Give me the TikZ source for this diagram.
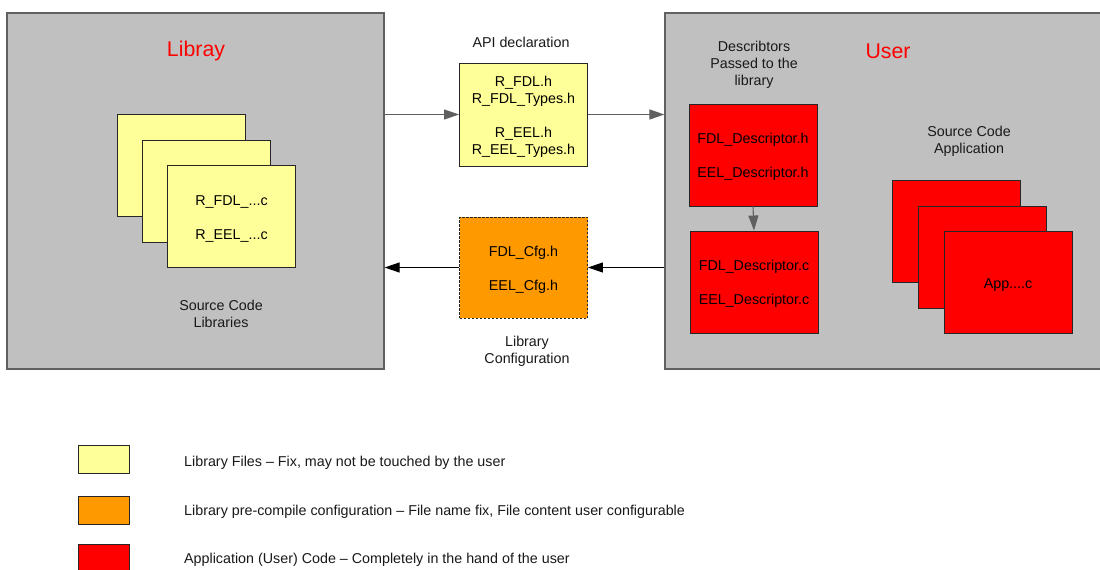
\documentclass[tikz,border=0pt]{standalone}
\usepackage{fontspec}
\setmainfont{Liberation Sans}
\usetikzlibrary{arrows.meta}
\definecolor{boxgray}{HTML}{C0C0C0}
\definecolor{edgegray}{HTML}{606060}
\definecolor{libyellow}{HTML}{FFFF99}
\definecolor{cfgorange}{HTML}{FF9900}
\definecolor{userred}{HTML}{FF0000}
\newcommand\toppad{\rule{0pt}{14pt}}
\tikzset{
  area/.style={draw=edgegray, line width=1.2pt, fill=boxgray, inner sep=0pt},
  filebox/.style={draw=black!85, line width=0.9pt, inner sep=0pt, minimum width=128pt, minimum height=102pt, align=center},
  yfile/.style={filebox, fill=libyellow},
  ofile/.style={filebox, fill=cfgorange, dashed, dash pattern=on 2.5pt off 1.5pt},
  rfile/.style={filebox, fill=userred},
  legbox/.style={draw=black!85, line width=0.9pt, inner sep=0pt, minimum width=51pt, minimum height=28pt},
  lbl/.style={align=center, inner sep=0pt, text=black!90},
  title/.style={inner sep=0pt, text=userred, font=\fontsize{21.3}{24}\selectfont},
  conn/.style={line width=1.1pt, -{Triangle[length=15pt,width=10pt]}},
}
\begin{document}
\begin{tikzpicture}[x=1pt, y=-1pt, font=\fontsize{14.3}{17}\selectfont]
\useasboundingbox[fill=white] (0,0) rectangle (1100,570);
% areas
\node[area, minimum width=377pt, minimum height=356pt] (lib) at (195.5,191) {};
\node[area, minimum width=440pt, minimum height=356pt] (user) at (885,191) {};
\node[title] (libt) at (196,51) {Libray};
\node[title] (usert) at (888,51) {User};
% library source stack
\node[yfile] (ls1) at (181,165.5) {};
\node[yfile] (ls2) at (206,191) {};
\node[yfile] (ls3) at (231.5,216.5) {\toppad R\_FDL\_...c\\[17pt]R\_EEL\_...c};
\node[lbl] (lslbl) at (221,314) {Source Code\\Libraries};
% API
\node[lbl] (apilbl) at (521,42.5) {API declaration};
\node[yfile, minimum height=103pt] (api) at (523.5,114.5) {\toppad R\_FDL.h\\R\_FDL\_Types.h\\[17pt]R\_EEL.h\\R\_EEL\_Types.h};
% Config
\node[ofile, minimum height=101pt] (cfg) at (523.5,267.5) {\toppad FDL\_Cfg.h\\[17pt]EEL\_Cfg.h};
\node[lbl] (cfglbl) at (527,351.5) {Library\\Configuration};
% descriptors
\node[lbl] (desclbl) at (754,65) {Describtors\\Passed to the\\library};
\node[rfile] (desch) at (753,155) {\toppad FDL\_Descriptor.h\\[17pt]EEL\_Descriptor.h};
\node[rfile] (descc) at (754,282) {\toppad FDL\_Descriptor.c\\[17pt]EEL\_Descriptor.c};
% application
\node[lbl] (applbl) at (969,141) {Source Code\\Application};
\node[rfile] (app1) at (956.5,231.5) {};
\node[rfile] (app2) at (982,257) {};
\node[rfile] (app3) at (1008,282.5) {\toppad App....c};
% connectors
\draw[conn, draw=edgegray] (lib.east |- api.west) -- (api.west);
\draw[conn, draw=edgegray] (api.east) -- (user.west |- api.east);
\draw[conn, draw=black] (user.west |- cfg.east) -- (cfg.east);
\draw[conn, draw=black] (cfg.west) -- (lib.east |- cfg.west);
\draw[conn, draw=edgegray] (desch.south) -- (descc.north);
% legend
\node[legbox, fill=libyellow] (leg1) at (103.5,459.5) {};
\node[legbox, fill=cfgorange] (leg2) at (103.5,510) {};
\node[legbox, fill=userred] (leg3) at (103.5,558) {};
\node[lbl, anchor=west] (leg1t) at (184,463) {Library Files – Fix, may not be touched by the user};
\node[lbl, anchor=west] (leg2t) at (184,512) {Library pre-compile configuration – File name fix, File content user configurable};
\node[lbl, anchor=west] (leg3t) at (184,560) {Application (User) Code – Completely in the hand of the user};
\end{tikzpicture}
\end{document}
